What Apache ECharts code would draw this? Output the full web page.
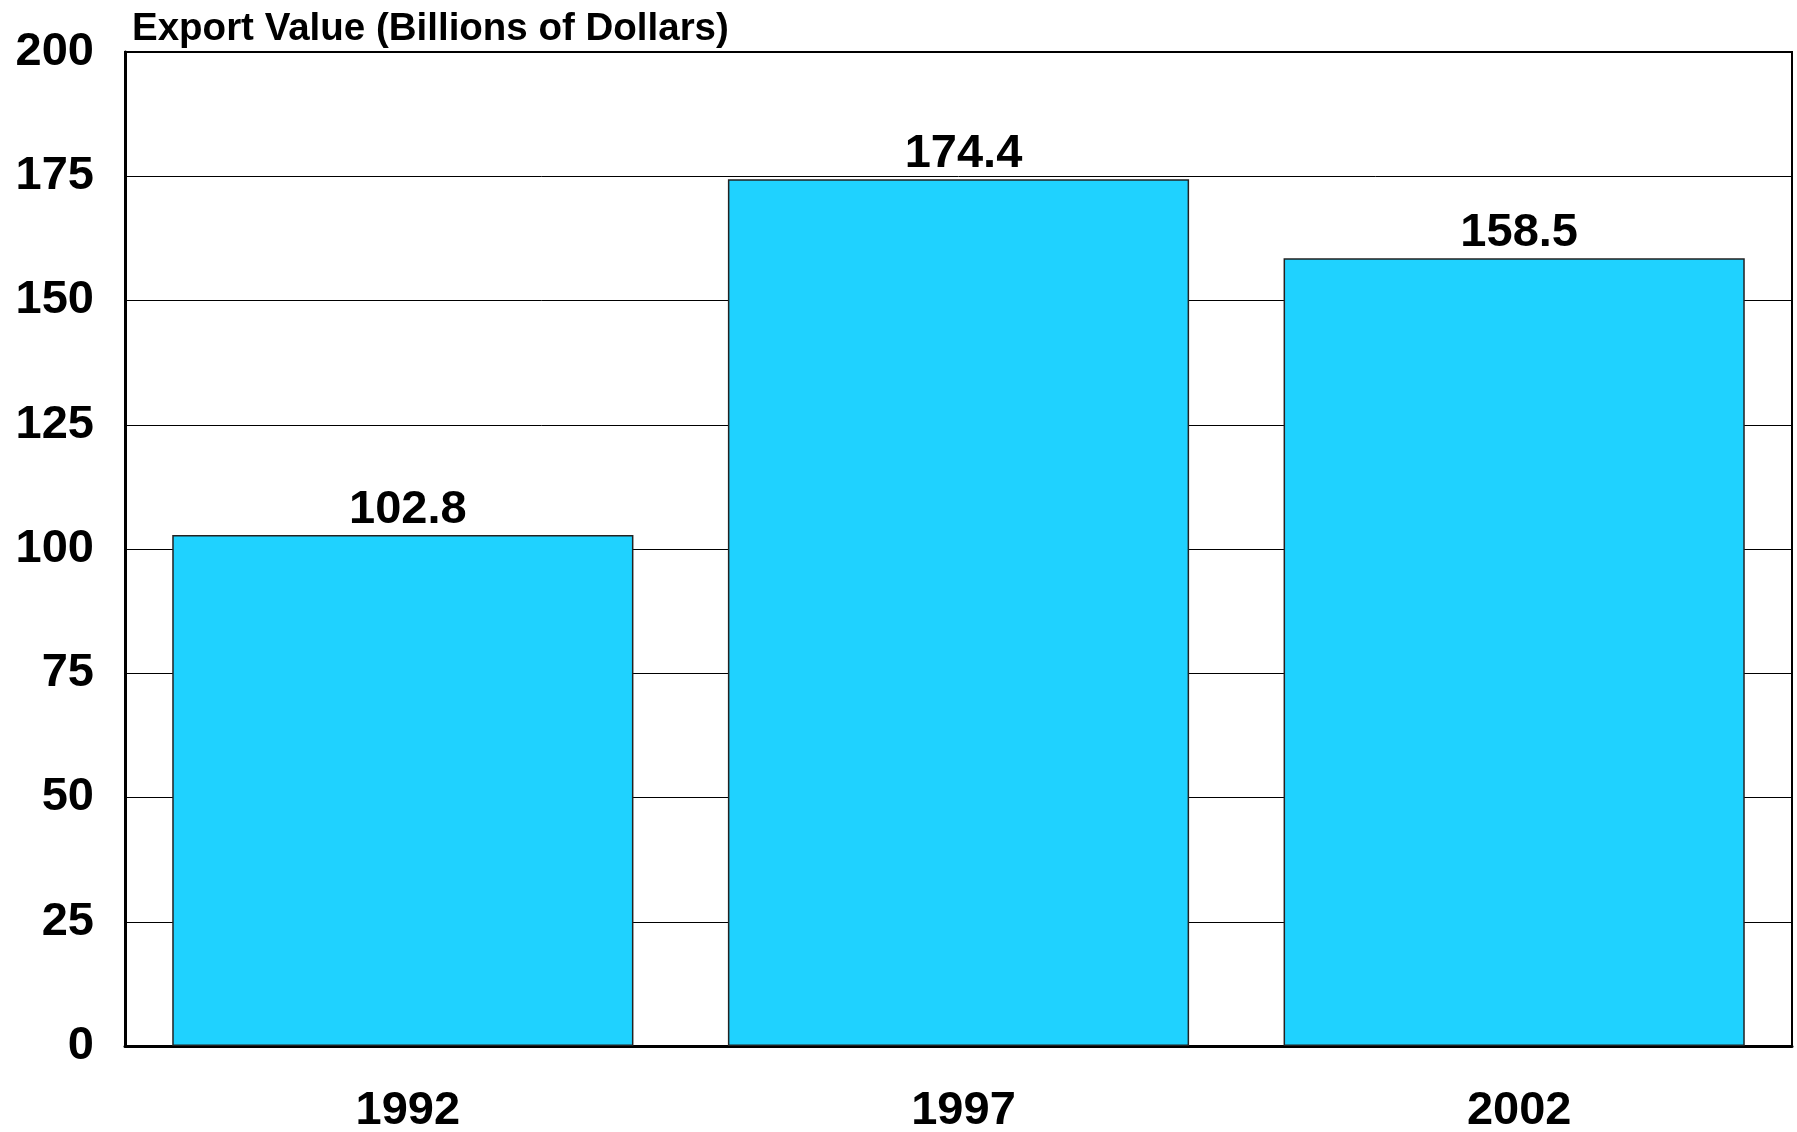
<!DOCTYPE html>
<html>
<head>
<meta charset="utf-8">
<script src="https://cdn.jsdelivr.net/npm/echarts@6/dist/echarts.min.js"></script>
<style>html,body{margin:0;padding:0;background:#fff}#c{width:1797px;height:1132px}</style>
</head>
<body>
<div id="c"></div>
<script>
const categories = ['1992', '1997', '2002'];
const exportValues = [102.8, 174.4, 158.5];
const yTicks = [0, 25, 50, 75, 100, 125, 150, 175, 200];
const titleText = 'Export Value (Billions of Dollars)';

const chart = echarts.init(document.getElementById('c'), null, {renderer: 'canvas'});
const FONT = '"Liberation Sans", Arial, sans-serif';
chart.setOption({
  animation: false,
  backgroundColor: '#ffffff',
  title: {
    text: titleText,
    left: 127, top: 5,
    textStyle: {fontFamily: FONT, fontSize: 38.5, fontWeight: 'bold', color: '#000'}
  },
  grid: {left: 125, right: 5, top: 52, bottom: 86, outerBoundsMode: 'none', containLabel: false,
         show: true, borderColor: '#000', borderWidth: 2, backgroundColor: 'transparent'},
  xAxis: {
    type: 'category',
    data: categories,
    axisLine: {show: true, lineStyle: {color: '#000', width: 3}},
    axisTick: {show: false},
    axisLabel: {fontFamily: FONT, fontSize: 47, fontWeight: 'bold', color: '#000', margin: 42, padding: [0, 0, 0, 10]}
  },
  yAxis: {
    type: 'value',
    min: yTicks[0], max: yTicks[yTicks.length - 1], interval: 25,
    axisLine: {show: true, lineStyle: {color: '#000', width: 3}},
    axisTick: {show: false},
    splitLine: {show: true, lineStyle: {color: '#000', width: 1}},
    axisLabel: {fontFamily: FONT, fontSize: 47, fontWeight: 'bold', color: '#000', margin: 31}
  },
  series: [{
    type: 'bar',
    data: exportValues,
    barWidth: '83%',
    itemStyle: {color: '#1FD2FF', borderColor: '#222', borderWidth: 1.5},
    label: {
      show: true, position: 'top', distance: 2, offset: [5, 0],
      fontFamily: FONT, fontSize: 47, fontWeight: 'bold', color: '#000',
      formatter: p => p.value.toFixed(1)
    }
  }]
});
</script>
</body>
</html>
